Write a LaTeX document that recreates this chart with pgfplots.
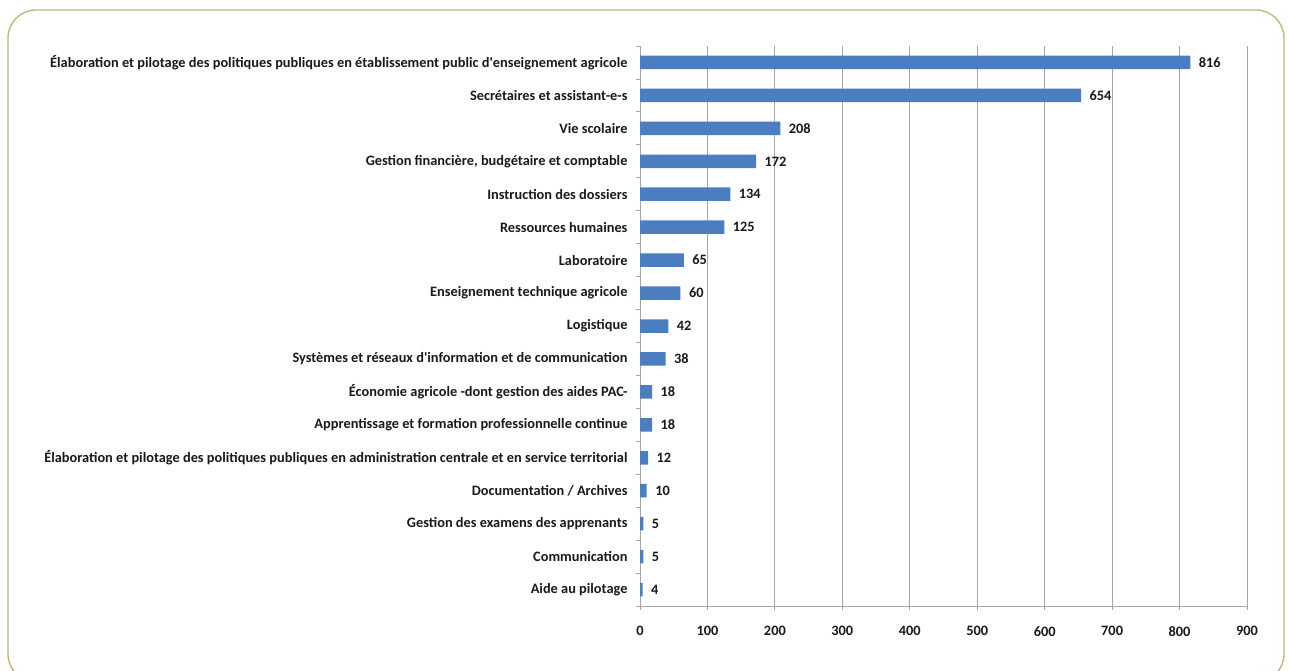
\documentclass[border=0pt]{standalone}
\usepackage{pgfplots}
\pgfplotsset{compat=1.18}
\usepackage{fontspec}
\setmainfont{Carlito}
\definecolor{barblue}{RGB}{74,126,193}
\definecolor{frame}{RGB}{196,182,120}
\definecolor{gridc}{RGB}{168,164,164}
\definecolor{txt}{RGB}{25,25,25}
\begin{document}
\begin{tikzpicture}[x=1pt,y=1pt]
\useasboundingbox (0,0) rectangle (1289,670);
\draw[frame, line width=1.4pt, rounded corners=28pt] (8,660) rectangle (1284,-12);
\begin{axis}[
  at={(640pt,64pt)}, anchor=south west,
  scale only axis, width=607pt, height=560pt,
  xbar, bar width=13.5pt,
  xmin=0, xmax=900, xtick={0,100,...,900},
  ymin=-0.5, ymax=16.5, y dir=reverse,
  ytick={0,...,16},
  yticklabels={{Élaboration et pilotage des politiques publiques en établissement public d\textquotesingle enseignement agricole},
    {Secrétaires et assistant-e-s},{Vie scolaire},{Gestion financière, budgétaire et comptable},
    {Instruction des dossiers},{Ressources humaines},{Laboratoire},{Enseignement technique agricole},
    {Logistique},{Systèmes et réseaux d\textquotesingle information et de communication},
    {Économie agricole -dont gestion des aides PAC-},{Apprentissage et formation professionnelle continue},
    {Élaboration et pilotage des politiques publiques en administration centrale et en service territorial},
    {Documentation / Archives},{Gestion des examens des apprenants},{Communication},{Aide au pilotage}},
  minor ytick={-0.5,0.5,...,16.5},
  major y tick style={draw=none},
  minor tick length=4pt, major tick length=4pt,
  tick align=outside,
  x tick style={gridc, line width=0.8pt},
  minor y tick style={gridc, line width=0.8pt},
  xmajorgrids, major grid style={gridc, line width=1pt},
  axis x line*=bottom, axis y line*=left,
  axis line style={gridc, line width=1pt, -},
  ticklabel style={font=\fontsize{14.35}{16}\selectfont\bfseries, text=txt},
  xticklabel style={yshift=-13pt},
  yticklabel style={xshift=-5pt},
  /pgf/number format/assume math mode=true,
  nodes near coords,
  nodes near coords style={font=\fontsize{14.35}{16}\selectfont\bfseries, text=txt, xshift=5pt},
  clip=false,
]
\addplot[fill=barblue, draw=none] coordinates {
(816,0) (654,1) (208,2) (172,3) (134,4) (125,5) (65,6) (60,7) (42,8) (38,9)
(18,10) (18,11) (12,12) (10,13) (5,14) (5,15) (4,16)};
\end{axis}
\end{tikzpicture}
\end{document}
